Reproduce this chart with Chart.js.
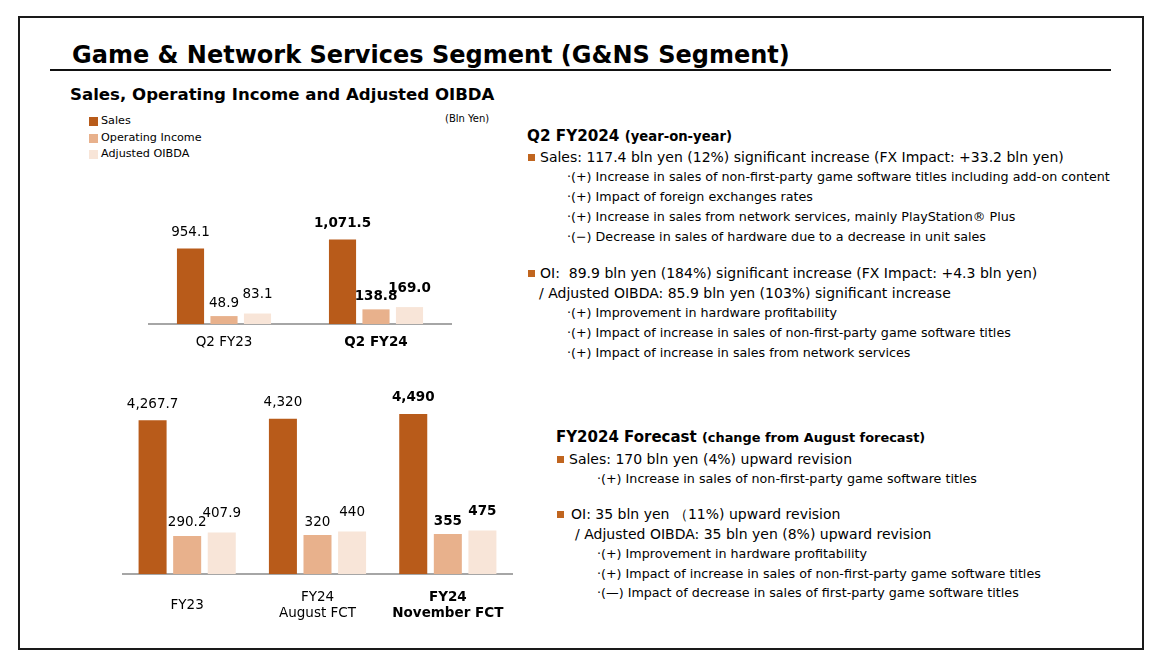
<!DOCTYPE html>
<html>
<head>
<meta charset="utf-8">
<script src="https://cdn.jsdelivr.net/npm/chart.js@4.4.1/dist/chart.umd.min.js"></script>
<style>
  body { margin: 0; width: 1160px; height: 664px; background: #fff; position: relative; overflow: hidden;
         font-family: 'DejaVu Sans', Verdana, sans-serif; color: #000; }
  .frame { position: absolute; left: 18px; top: 16px; width: 1122px; height: 630px; border: 2px solid #1a1a1a; }
  .rule { position: absolute; left: 50px; top: 69px; width: 1061px; height: 2px; background: #111; }
  .t { position: absolute; white-space: pre; line-height: 20px; height: 20px; }
  .title { position: absolute; left: 72px; top: 38px; font-size: 24px; font-weight: bold; white-space: pre; line-height: 34px; }
  .sub { position: absolute; left: 70px; top: 84px; font-size: 16.6px; font-weight: bold; white-space: pre; line-height: 22px; }
  .main { font-size: 14px; }
  .item { font-size: 12.7px; }
  .sq { position: absolute; width: 7px; height: 7px; background: #c0651f; }
  .lg { position: absolute; font-size: 11.2px; white-space: pre; line-height: 16px; }
  .lg i { position: absolute; left: -12px; top: 4px; width: 9px; height: 9px; }
  canvas { position: absolute; }
</style>
</head>
<body>
<div class="frame"></div>
<div class="title">Game &amp; Network Services Segment (G&amp;NS Segment)</div>
<div class="rule"></div>
<div class="sub">Sales, Operating Income and Adjusted OIBDA</div>
<div id="legend"></div>
<div class="lg" style="left:445px; top:111px; font-size:10px;">(Bln Yen)</div>

<canvas id="topChart" width="304" height="154" style="left:148px; top:200px;"></canvas>
<canvas id="bottomChart" width="391" height="250" style="left:122px; top:380px;"></canvas>

<!-- right side text -->
<div class="t" style="left:527px; top:126px; font-size:15.2px; font-weight:bold;">Q2 FY2024 <span style="font-size:13.2px;">(year-on-year)</span></div>
<div class="sq" style="left:528px; top:154px;"></div>
<div class="t main" style="left:540px; top:147px;">Sales: 117.4 bln yen (12%) significant increase (FX Impact: +33.2 bln yen)</div>
<div class="t item" style="left:567px; top:167px;">·(+) Increase in sales of non-first-party game software titles including add-on content</div>
<div class="t item" style="left:567px; top:187px;">·(+) Impact of foreign exchanges rates</div>
<div class="t item" style="left:567px; top:207px;">·(+) Increase in sales from network services, mainly PlayStation® Plus</div>
<div class="t item" style="left:567px; top:227px;">·(−) Decrease in sales of hardware due to a decrease in unit sales</div>

<div class="sq" style="left:528px; top:270px;"></div>
<div class="t main" style="left:540px; top:263px;">OI:  89.9 bln yen (184%) significant increase (FX Impact: +4.3 bln yen)</div>
<div class="t main" style="left:539px; top:283px;">/ Adjusted OIBDA: 85.9 bln yen (103%) significant increase</div>
<div class="t item" style="left:567px; top:303px;">·(+) Improvement in hardware profitability</div>
<div class="t item" style="left:567px; top:323px;">·(+) Impact of increase in sales of non-first-party game software titles</div>
<div class="t item" style="left:567px; top:343px;">·(+) Impact of increase in sales from network services</div>

<div class="t" style="left:556px; top:427px; font-size:15px; font-weight:bold;">FY2024 Forecast <span style="font-size:12.9px;">(change from August forecast)</span></div>
<div class="sq" style="left:557px; top:456px;"></div>
<div class="t main" style="left:569px; top:449px;">Sales: 170 bln yen (4%) upward revision</div>
<div class="t item" style="left:597px; top:469px;">·(+) Increase in sales of non-first-party game software titles</div>
<div class="sq" style="left:557px; top:511px;"></div>
<div class="t main" style="left:571px; top:504px;">OI: 35 bln yen （11%) upward revision</div>
<div class="t main" style="left:575px; top:524px;">/ Adjusted OIBDA: 35 bln yen (8%) upward revision</div>
<div class="t item" style="left:597px; top:544px;">·(+) Improvement in hardware profitability</div>
<div class="t item" style="left:597px; top:564px;">·(+) Impact of increase in sales of non-first-party game software titles</div>
<div class="t item" style="left:597px; top:583px;">·(—) Impact of decrease in sales of first-party game software titles</div>

<script>
// 系列名と色
const seriesNames = ["Sales", "Operating Income", "Adjusted OIBDA"];
const seriesColors = ["#b85b1a", "#e8b18c", "#f8e5d8"];

// 四半期 (Q2) のデータ
const quarterLabels = ["Q2 FY23", "Q2 FY24"];
const quarterSales = [954.1, 1071.5];
const quarterOI = [48.9, 138.8];
const quarterOIBDA = [83.1, 169.0];
const quarterDecimals = [1, 1];
const quarterBold = 1;

// 通期 (FY) のデータ
const yearLabels = ["FY23", ["FY24", "August FCT"], ["FY24", "November FCT"]];
const yearSales = [4267.7, 4320, 4490];
const yearOI = [290.2, 320, 355];
const yearOIBDA = [407.9, 440, 475];
const yearDecimals = [1, 0, 0];
const yearBold = 2;

// 元資料の棒は0から描かれていないので、軸の下端をずらして再現
const quarterAxis = { min: -57, max: 1601 };
const yearAxis = { min: -1019, max: 5657 };

// 数値ラベルの棒上からの距離 (系列ごと)
const labelGap = [16, 13, 19];

const FONT = "'DejaVu Sans', Verdana, sans-serif";

// 凡例 (HTML)
const legend = document.getElementById("legend");
seriesNames.forEach((name, i) => {
    const d = document.createElement("div");
    d.className = "lg";
    d.style.left = "101px";
    d.style.top = (113 + i * 16.5) + "px";
    d.innerHTML = '<i style="background:' + seriesColors[i] + '"></i>' + name;
    legend.appendChild(d);
});

// 棒の上に数値を描くプラグイン
const valueLabels = {
    id: "valueLabels",
    afterDatasetsDraw(chart, args, opts) {
        const ctx = chart.ctx;
        chart.data.datasets.forEach((ds, i) => {
            chart.getDatasetMeta(i).data.forEach((bar, j) => {
                const d = opts.decimals[j];
                const text = ds.data[j].toLocaleString("en-US", { minimumFractionDigits: d, maximumFractionDigits: d });
                ctx.save();
                ctx.font = (j === opts.bold ? "bold " : "") + "13.5px " + FONT;
                ctx.fillStyle = "#000";
                ctx.textAlign = "center";
                ctx.textBaseline = "middle";
                ctx.fillText(text, bar.x, bar.y - labelGap[i]);
                ctx.restore();
            });
        });
    }
};

function makeChart(id, labels, sales, oi, oibda, axis, decimals, bold, axisHeight, pad, catPct) {
    const data = [sales, oi, oibda];
    return new Chart(document.getElementById(id), {
        type: "bar",
        data: {
            labels: labels,
            datasets: data.map((vals, i) => ({
                label: seriesNames[i],
                data: vals,
                backgroundColor: seriesColors[i],
                base: axis.min,
                categoryPercentage: catPct,
                barPercentage: 0.81
            }))
        },
        options: {
            responsive: false,
            animation: false,
            devicePixelRatio: 1,
            layout: { padding: 0 },
            plugins: {
                legend: { display: false },
                tooltip: { enabled: false },
                valueLabels: { decimals: decimals, bold: bold }
            },
            scales: {
                x: {
                    grid: { display: false, drawTicks: false },
                    border: { display: true, color: "#a6a6a6", width: 2 },
                    ticks: {
                        color: "#000",
                        padding: pad,
                        crossAlign: "center",
                        maxRotation: 0,
                        autoSkip: false,
                        font: c => ({ family: FONT, size: 13.5, lineHeight: 1.2, weight: c.index === bold ? "bold" : "normal" })
                    },
                    afterFit: s => {
                        s.height = axisHeight;
                        s.paddingLeft = 0;
                        s.paddingRight = 0;
                    }
                },
                y: { display: false, min: axis.min, max: axis.max }
            }
        },
        plugins: [valueLabels]
    });
}

makeChart("topChart", quarterLabels, quarterSales, quarterOI, quarterOIBDA, quarterAxis, quarterDecimals, quarterBold, 30, 18, 0.661);
makeChart("bottomChart", yearLabels, yearSales, yearOI, yearOIBDA, yearAxis, yearDecimals, yearBold, 56, 23, 0.796);
</script>
</body>
</html>
